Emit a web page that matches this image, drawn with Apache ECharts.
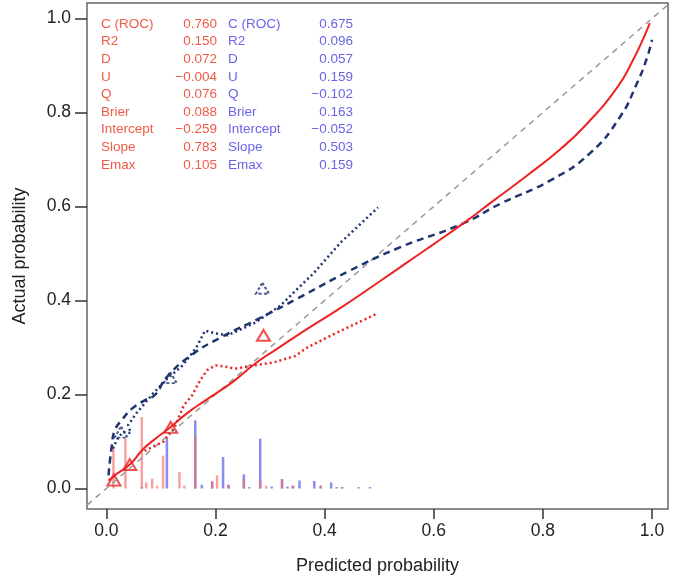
<!DOCTYPE html>
<html>
<head>
<meta charset="utf-8">
<script src="https://cdn.jsdelivr.net/npm/echarts@6/dist/echarts.min.js"></script>
<style>
html, body { margin: 0; padding: 0; background: #fff; }
#chart { width: 676px; height: 583px; }
</style>
</head>
<body>
<div id="chart"></div>
<script>
// tick labels
const xTicks = [0, 0.2, 0.4, 0.6, 0.8, 1.0]
const yTicks = [0, 0.2, 0.4, 0.6, 0.8, 1.0]

// ideal line
const ideal = [[-0.05, -0.05], [1.05, 1.05]]

// model 1 (red) : smooth calibration curve, loess, grouped triangles
const redSmooth = [[0.004, 0.017], [0.02, 0.032], [0.044, 0.052], [0.066, 0.082], [0.09, 0.106], [0.117, 0.13],
	[0.15, 0.162], [0.181, 0.187], [0.233, 0.228], [0.273, 0.266], [0.31, 0.295], [0.35, 0.326], [0.43, 0.385],
	[0.5, 0.44], [0.55, 0.48], [0.6, 0.52], [0.654, 0.564], [0.709, 0.612], [0.77, 0.665], [0.832, 0.722],
	[0.88, 0.775], [0.936, 0.853], [0.965, 0.911], [0.985, 0.96], [0.996, 0.99]]
const redLoess = [[0.07, 0.08], [0.105, 0.1], [0.125, 0.13], [0.142, 0.177], [0.157, 0.198], [0.172, 0.23],
	[0.185, 0.252], [0.2, 0.262], [0.215, 0.26], [0.236, 0.255], [0.27, 0.262], [0.306, 0.268], [0.346, 0.282],
	[0.368, 0.3], [0.43, 0.336], [0.496, 0.372]]
const redGroups = [[0.014, 0.018], [0.043, 0.051], [0.118, 0.13], [0.288, 0.326]]

// model 2 (blue)
const blueSmooth = [[0.004, 0.028], [0.01, 0.09], [0.016, 0.125], [0.03, 0.148], [0.047, 0.17], [0.071, 0.188],
	[0.09, 0.2], [0.11, 0.236], [0.155, 0.283], [0.209, 0.321], [0.284, 0.364], [0.35, 0.404], [0.447, 0.464],
	[0.538, 0.513], [0.654, 0.564], [0.722, 0.606], [0.813, 0.655], [0.886, 0.713], [0.941, 0.79],
	[0.972, 0.861], [0.991, 0.917], [1.0, 0.955]]
const blueLoess = [[0.012, 0.085], [0.02, 0.105], [0.03, 0.12], [0.045, 0.118], [0.04, 0.135], [0.055, 0.16],
	[0.084, 0.2], [0.11, 0.232], [0.14, 0.262], [0.165, 0.3], [0.181, 0.336], [0.2, 0.33], [0.222, 0.326],
	[0.27, 0.351], [0.319, 0.389], [0.346, 0.42], [0.379, 0.457], [0.429, 0.523], [0.498, 0.598]]
const blueGroups = [[0.027, 0.12], [0.117, 0.236], [0.286, 0.426]]

// spike histograms of predicted probabilities
const redSpikes = [[0.013, 0.09], [0.035, 0.106], [0.065, 0.152], [0.073, 0.013], [0.084, 0.021], [0.093, 0.006],
	[0.104, 0.07], [0.134, 0.035], [0.143, 0.006], [0.163, 0.109], [0.194, 0.015], [0.203, 0.028], [0.224, 0.008],
	[0.252, 0.02], [0.282, 0.017], [0.293, 0.006], [0.322, 0.02], [0.342, 0.006], [0.393, 0.006], [0.432, 0.003]]
const blueSpikes = [[0.065, 0.003], [0.111, 0.106], [0.163, 0.145], [0.175, 0.008], [0.194, 0.015], [0.214, 0.067],
	[0.224, 0.008], [0.252, 0.03], [0.262, 0.003], [0.282, 0.106], [0.303, 0.004], [0.322, 0.02], [0.332, 0.004],
	[0.342, 0.006], [0.354, 0.017], [0.381, 0.016], [0.393, 0.006], [0.412, 0.013], [0.422, 0.003], [0.432, 0.003],
	[0.462, 0.003], [0.483, 0.003]]

// statistics table
const statNames = ['C (ROC)', 'R2', 'D', 'U', 'Q', 'Brier', 'Intercept', 'Slope', 'Emax']
const redStats = ['0.760', '0.150', '0.072', '\u22120.004', '0.076', '0.088', '\u22120.259', '0.783', '0.105']
const blueStats = ['0.675', '0.096', '0.057', '0.159', '\u22120.102', '0.163', '\u22120.052', '0.503', '0.159']

const FONT = 'Liberation Sans, Arial, Helvetica, sans-serif'
const RED = '#ee2222'
const NAVY = '#1f3470'
const RED_TXT = '#ef5b45'
const BLUE_TXT = '#6a64e6'

function spikeSeries(data, color) {
	return {
		type: 'custom',
		data: data,
		silent: true,
		renderItem: function (params, api) {
			let p0 = api.coord([api.value(0), 0])
			let p1 = api.coord([api.value(0), api.value(1)])
			return {
				type: 'line',
				shape: { x1: p0[0], y1: p0[1], x2: p1[0], y2: p1[1] },
				style: { stroke: color, lineWidth: 2.5 }
			}
		}
	}
}

function lineSeries(data, color, width, dash, smooth) {
	return {
		type: 'line',
		data: data,
		symbol: 'none',
		smooth: smooth,
		clip: true,
		silent: true,
		lineStyle: { color: color, width: width, type: dash }
	}
}

function triSeries(data, color, dash) {
	return {
		type: 'scatter',
		data: data,
		symbol: 'triangle',
		symbolSize: [13, 11],
		silent: true,
		itemStyle: { color: 'rgba(255,255,255,0)', borderColor: color, borderWidth: 2, borderType: dash }
	}
}

let graphics = []
for (let i in statNames) {
	let y = 25 + i * 17.6
	let font = '13.5px ' + FONT
	graphics.push({ type: 'text', left: 101, top: y - 8, style: { text: statNames[i], fill: RED_TXT, font: font } })
	graphics.push({ type: 'text', right: 676 - 217, top: y - 8, style: { text: redStats[i], fill: RED_TXT, font: font } })
	graphics.push({ type: 'text', left: 228, top: y - 8, style: { text: statNames[i], fill: BLUE_TXT, font: font } })
	graphics.push({ type: 'text', right: 676 - 353, top: y - 8, style: { text: blueStats[i], fill: BLUE_TXT, font: font } })
}

let myChart = echarts.init(document.getElementById('chart'))
let option = {
	animation: false,
	backgroundColor: '#fff',
	grid: { left: 87, right: 8, top: 3, bottom: 74, show: true, borderColor: '#666', borderWidth: 1.5 },
	xAxis: {
		type: 'value',
		min: -0.0354,
		max: 1.0293,
		name: 'Predicted probability',
		nameLocation: 'middle',
		nameGap: 48,
		nameTextStyle: { fontSize: 18, color: '#222', fontFamily: FONT },
		axisLine: { show: false, onZero: false },
		splitLine: { show: false },
		axisTick: { show: true, length: 10, customValues: xTicks, lineStyle: { color: '#333', width: 1.5 } },
		axisLabel: { customValues: xTicks, fontSize: 17.5, color: '#222', fontFamily: FONT, margin: 13, formatter: v => v.toFixed(1) }
	},
	yAxis: {
		type: 'value',
		min: -0.0436,
		max: 1.033,
		name: 'Actual probability',
		nameLocation: 'middle',
		nameGap: 58,
		nameTextStyle: { fontSize: 18, color: '#222', fontFamily: FONT },
		axisLine: { show: false, onZero: false },
		splitLine: { show: false },
		axisTick: { show: true, length: 12, customValues: yTicks, lineStyle: { color: '#333', width: 1.5 } },
		axisLabel: { customValues: yTicks, fontSize: 17.5, color: '#222', fontFamily: FONT, margin: 16, formatter: v => v.toFixed(1) }
	},
	graphic: graphics,
	series: [
		spikeSeries(blueSpikes, 'rgba(100,100,240,0.75)'),
		spikeSeries(redSpikes, 'rgba(245,110,110,0.65)'),
		lineSeries(ideal, '#999', 1.5, [6, 5], false),
		lineSeries(blueLoess, NAVY, 2.5, [2, 3], false),
		lineSeries(redLoess, RED, 2.5, [2, 3], false),
		lineSeries(blueSmooth, NAVY, 2.5, [7, 5], true),
		lineSeries(redSmooth, RED, 2, 'solid', true),
		triSeries(redGroups, RED, 'solid'),
		triSeries(blueGroups, NAVY, [3, 2])
	]
}
myChart.setOption(option)
</script>
</body>
</html>
